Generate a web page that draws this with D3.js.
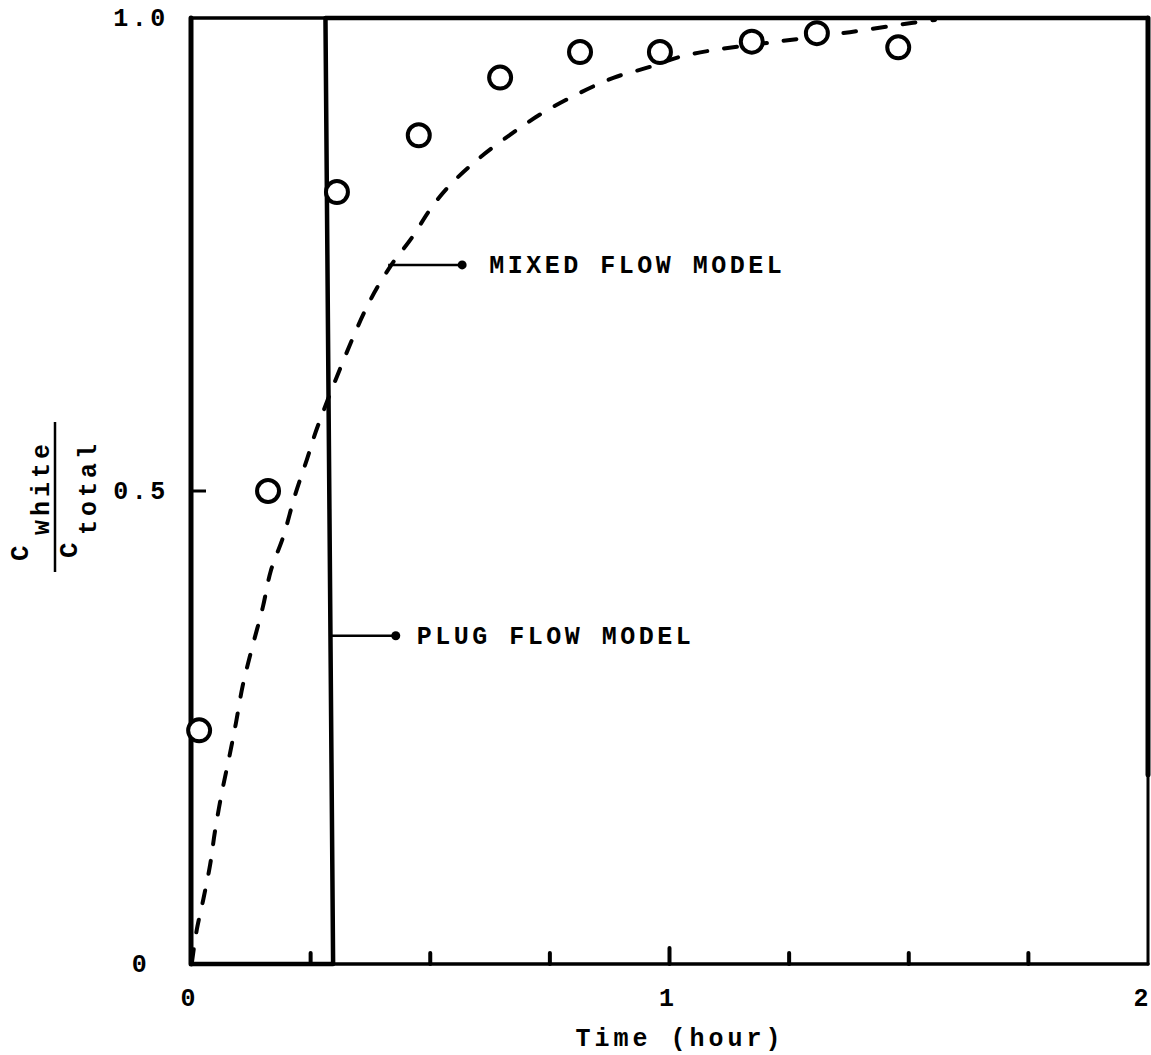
<html>
	<head>
		<meta content="text/html;charset=utf-8" http-equiv="Content-Type">
		<script src="https://d3js.org/d3.v7.min.js"></script>
		<style>
		body { margin: 0; background: #fff; }
		text { font-family: "Liberation Mono", "DejaVu Sans Mono", monospace; font-weight: bold; fill: #000; }
		</style>
	</head>
	<body>
		<svg id="page"></svg>
		<script>

		// data (time in hours, fraction white)
		var obsTime = [0.017, 0.161, 0.305, 0.476, 0.646, 0.813, 0.980, 1.172, 1.308, 1.478];
		var obsFrac = [0.247, 0.500, 0.816, 0.876, 0.937, 0.964, 0.964, 0.975, 0.984, 0.969];

		var mixedTime = [0.002, 0.012, 0.026, 0.040, 0.050, 0.064, 0.080, 0.094, 0.108, 0.127, 0.150, 0.167,
			0.193, 0.217, 0.242, 0.266, 0.366, 0.416, 0.462, 0.499, 0.535, 0.598, 0.671, 0.736, 0.813,
			0.884, 0.957, 1.022, 1.091, 1.225, 1.377, 1.509, 1.555];
		var mixedFrac = [0.002, 0.036, 0.069, 0.105, 0.140, 0.180, 0.219, 0.255, 0.294, 0.333, 0.377, 0.416,
			0.452, 0.495, 0.533, 0.570, 0.693, 0.737, 0.768, 0.797, 0.820, 0.850, 0.878, 0.900, 0.921,
			0.937, 0.948, 0.959, 0.966, 0.975, 0.985, 0.995, 0.998];

		var plugTime = [0, 0.297, 0.281, 2];
		var plugFrac = [0, 0, 1, 1];

		var xTicks = [0.25, 0.5, 0.75, 1, 1.25, 1.5, 1.75];
		var xLabels = [0, 1, 2];
		var yLabels = [0, 0.5, 1.0];

		var svg = d3.select("#page").attr("width", 1151).attr("height", 1055);
		svg.append("rect").attr("width", 1151).attr("height", 1055).attr("fill", "#fff");

		var x = d3.scaleLinear().domain([0, 2]).range([191, 1148]);
		var y = d3.scaleLinear().domain([0, 1]).range([964, 18]);

		// frame
		function seg(x1, y1, x2, y2, w) {
			svg.append("line")
				.attr("x1", x(x1)).attr("y1", y(y1)).attr("x2", x(x2)).attr("y2", y(y2))
				.attr("stroke", "#000").attr("stroke-width", w).attr("stroke-linecap", "round");
		}
		seg(0, 0, 0, 1, 5);
		seg(0, 1, 2, 1, 3.5);
		seg(2, 1, 2, 0.2, 5);
		seg(2, 0.2, 2, 0, 3);
		seg(0, 0, 2, 0, 3.5);

		// ticks on time axis
		svg.selectAll(".xtick").data(xTicks).enter().append("line")
			.attr("x1", function(d){ return x(d); })
			.attr("x2", function(d){ return x(d); })
			.attr("y1", y(0))
			.attr("y2", function(d){ return y(0) - (d === 1 ? 16 : 11); })
			.attr("stroke", "#000").attr("stroke-width", 4).attr("stroke-linecap", "round");
		svg.append("line")
			.attr("x1", x(0)).attr("x2", x(0) + 15).attr("y1", y(0.5)).attr("y2", y(0.5))
			.attr("stroke", "#000").attr("stroke-width", 3);

		// plug flow model
		var line = d3.line().x(function(d){ return x(d[0]); }).y(function(d){ return y(d[1]); });
		svg.append("path")
			.attr("d", line(d3.zip(plugTime, plugFrac)))
			.attr("fill", "none").attr("stroke", "#000").attr("stroke-width", 4.5)
			.attr("stroke-linejoin", "round");

		// mixed flow model
		svg.append("path")
			.attr("d", line.curve(d3.curveCatmullRom)(d3.zip(mixedTime, mixedFrac)))
			.attr("fill", "none").attr("stroke", "#000").attr("stroke-width", 4)
			.attr("stroke-dasharray", "13,17").attr("stroke-linecap", "round");

		// observations
		svg.selectAll(".obs").data(d3.zip(obsTime, obsFrac)).enter().append("circle")
			.attr("cx", function(d){ return x(d[0]); })
			.attr("cy", function(d){ return y(d[1]); })
			.attr("r", 11)
			.attr("fill", "#fff").attr("stroke", "#000").attr("stroke-width", 4);

		// annotations
		function leader(t0, c0, len, gap, label) {
			var px = x(t0), py = y(c0);
			svg.append("line").attr("x1", px).attr("y1", py).attr("x2", px + len).attr("y2", py)
				.attr("stroke", "#000").attr("stroke-width", 2.5);
			svg.append("circle").attr("cx", px + len).attr("cy", py).attr("r", 4.5).attr("fill", "#000");
			svg.append("text").attr("x", px + len + gap).attr("y", py + 8)
				.style("font-size", "25px").style("letter-spacing", "3.5px").text(label);
		}
		leader(0.412, 0.739, 74, 27, "MIXED FLOW MODEL");
		leader(0.29, 0.347, 66, 21, "PLUG FLOW MODEL");

		// tick labels
		svg.selectAll(".ylab").data(yLabels).enter().append("text")
			.attr("x", 141).attr("y", function(d){ return y(d) + 8; })
			.style("font-size", "25px").style("letter-spacing", "3.5px").style("text-anchor", "middle")
			.text(function(d){ return d === 0 ? "0" : d3.format(".1f")(d); });
		svg.selectAll(".xlab").data(xLabels).enter().append("text")
			.attr("x", function(d){ return d === 2 ? x(d) - 7 : x(d) - 3; }).attr("y", 1006)
			.style("font-size", "25px").style("text-anchor", "middle")
			.text(function(d){ return d; });

		svg.append("text").attr("x", 680).attr("y", 1046)
			.style("font-size", "25px").style("letter-spacing", "4px").style("text-anchor", "middle")
			.text("Time (hour)");

		// y label: C_white / C_total, rotated
		var g = svg.append("g").attr("transform", "translate(55,497) rotate(-90)");
		g.append("line").attr("x1", -75).attr("x2", 75).attr("y1", 0).attr("y2", 0)
			.attr("stroke", "#000").attr("stroke-width", 2.5);
		g.append("text").attr("x", -64).attr("y", -27).style("font-size", "26px").text("C");
		g.append("text").attr("x", -38).attr("y", -6).style("font-size", "25px").style("letter-spacing", "4px").text("white");
		g.append("text").attr("x", -61).attr("y", 22).style("font-size", "26px").text("C");
		g.append("text").attr("x", -38).attr("y", 41).style("font-size", "25px").style("letter-spacing", "4px").text("total");

		</script>
	</body>
</html>
